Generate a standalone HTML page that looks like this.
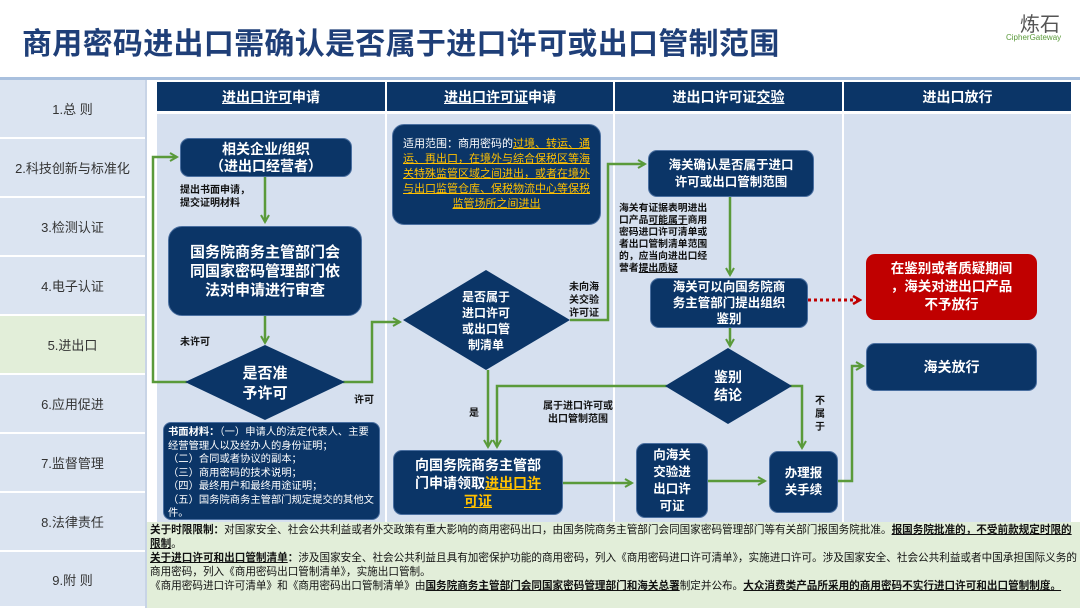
<!DOCTYPE html>
<html><head><meta charset="utf-8"><style>
*{margin:0;padding:0;box-sizing:border-box}
body{width:1080px;height:608px;overflow:hidden;background:#fff;position:relative;font-family:"Liberation Sans","Noto Sans CJK SC",sans-serif}
.a{position:absolute}
.t{left:22px;top:19px;font-size:30px;font-weight:bold;color:#1f3f78;letter-spacing:0.3px;white-space:nowrap}
.side{left:0;width:145px;background:#dbe4f1;color:#333;font-size:13px;display:flex;align-items:center;justify-content:center;border-bottom:2px solid #fff}
.hd{top:82px;height:29px;background:#0b3567;color:#fff;font-weight:bold;font-size:14px;display:flex;align-items:center;justify-content:center}
.box{background:#0b3567;color:#fff;font-weight:bold;border-radius:9px;display:flex;align-items:center;justify-content:center;text-align:center;border:1px solid #4a6fa0}
.lbl{font-size:10px;font-weight:bold;color:#111;line-height:13px}
.y{color:#ffc000;text-decoration:underline}
u{text-decoration:underline}
</style></head><body>
<div class="a t">商用密码进出口需确认是否属于进口许可或出口管制范围</div>
<div class="a" style="left:1020px;top:8px;font-size:20px;color:#555">炼石</div>
<div class="a" style="left:1006px;top:33px;font-size:8px;color:#5a9a3a">CipherGateway</div>
<div class="a" style="left:0;top:77px;width:1080px;height:3px;background:#a9c0de"></div>
<div class="a side" style="top:80px;height:59px">1.总 则</div>
<div class="a side" style="top:139px;height:59px">2.科技创新与标准化</div>
<div class="a side" style="top:198px;height:59px">3.检测认证</div>
<div class="a side" style="top:257px;height:59px">4.电子认证</div>
<div class="a side" style="top:316px;height:59px;background:#e2eed9">5.进出口</div>
<div class="a side" style="top:375px;height:59px">6.应用促进</div>
<div class="a side" style="top:434px;height:59px">7.监督管理</div>
<div class="a side" style="top:493px;height:59px">8.法律责任</div>
<div class="a side" style="top:552px;height:56px">9.附 则</div>
<div class="a" style="left:145px;top:80px;width:2px;height:528px;background:#c8d4e6"></div>
<div class="a" style="left:150px;top:80px;width:925px;height:442px;background:#fff"></div>
<div class="a" style="left:157px;top:114px;width:228px;height:408px;background:#d6e0ef"></div>
<div class="a" style="left:387px;top:114px;width:226px;height:408px;background:#d6e0ef"></div>
<div class="a" style="left:615px;top:114px;width:227px;height:408px;background:#d6e0ef"></div>
<div class="a" style="left:844px;top:114px;width:227px;height:408px;background:#d6e0ef"></div>
<div class="a hd" style="left:157px;width:228px"><div><u>进出口许可</u>申请</div></div>
<div class="a hd" style="left:387px;width:226px"><div><u>进出口许可证</u>申请</div></div>
<div class="a hd" style="left:615px;width:227px"><div>进出口许可证<u>交验</u></div></div>
<div class="a hd" style="left:844px;width:227px">进出口放行</div>

<svg class="a" style="left:0;top:0" width="1080" height="608">
<defs><marker id="g" markerWidth="10" markerHeight="10" refX="8" refY="5" orient="auto" markerUnits="userSpaceOnUse"><path d="M1,1 L8,5 L1,9" fill="none" stroke="#5a9a3a" stroke-width="2"/></marker>
<marker id="r" markerWidth="10" markerHeight="10" refX="8" refY="5" orient="auto" markerUnits="userSpaceOnUse"><path d="M1,1 L8,5 L1,9" fill="none" stroke="#c00000" stroke-width="2.5"/></marker></defs>
<g fill="none" stroke="#5a9a3a" stroke-width="2.5">
<path d="M265,177 V222" marker-end="url(#g)"/>
<path d="M265,316 V343" marker-end="url(#g)"/>
<path d="M187,382 H153 V157 H177" marker-end="url(#g)"/>
<path d="M343,382 H372 V322 H400" marker-end="url(#g)"/>
<path d="M570,320 H608 V164 H645" marker-end="url(#g)"/>
<path d="M730,197 V275" marker-end="url(#g)"/>
<path d="M730,328 V346" marker-end="url(#g)"/>
<path d="M488,370 V447" marker-end="url(#g)"/>
<path d="M667,386 H497 V447" marker-end="url(#g)"/>
<path d="M790,386 H802 V448" marker-end="url(#g)"/>
<path d="M563,483 H632" marker-end="url(#g)"/>
<path d="M708,481 H765" marker-end="url(#g)"/>
<path d="M838,481 H852 V366 H863" marker-end="url(#g)"/>
</g>
<path d="M808,300 H860" stroke="#c00000" stroke-width="3" stroke-dasharray="3,3" fill="none" marker-end="url(#r)"/>
<polygon points="185,382 265,345 345,382 265,420" fill="#0b3567"/>
<polygon points="403,320 486,270 570,320 486,370" fill="#0b3567"/>
<polygon points="665,386 728,348 792,386 728,424" fill="#0b3567"/>
<text x="265" y="378" fill="#fff" font-size="15" font-weight="bold" text-anchor="middle">是否准</text>
<text x="265" y="398" fill="#fff" font-size="15" font-weight="bold" text-anchor="middle">予许可</text>
<text x="486" y="301" fill="#fff" font-size="12" font-weight="bold" text-anchor="middle">是否属于</text>
<text x="486" y="317" fill="#fff" font-size="12" font-weight="bold" text-anchor="middle">进口许可</text>
<text x="486" y="333" fill="#fff" font-size="12" font-weight="bold" text-anchor="middle">或出口管</text>
<text x="486" y="349" fill="#fff" font-size="12" font-weight="bold" text-anchor="middle">制清单</text>
<text x="728" y="382" fill="#fff" font-size="14" font-weight="bold" text-anchor="middle">鉴别</text>
<text x="728" y="400" fill="#fff" font-size="14" font-weight="bold" text-anchor="middle">结论</text>
</svg>

<div class="a box" style="left:180px;top:138px;width:172px;height:39px;font-size:14px;line-height:17px"><div>相关企业/组织<br>（进出口经营者）</div></div>
<div class="a lbl" style="left:180px;top:184px">提出书面申请，<br>提交证明材料</div>
<div class="a box" style="left:168px;top:226px;width:194px;height:90px;font-size:15px;line-height:19px;border-radius:14px"><div>国务院商务主管部门会<br>同国家密码管理部门依<br>法对申请进行审查</div></div>
<div class="a lbl" style="left:180px;top:336px">未许可</div>
<div class="a lbl" style="left:354px;top:394px">许可</div>
<div class="a box" style="left:163px;top:422px;width:217px;height:98px;font-size:10.3px;line-height:13.5px;font-weight:normal;justify-content:flex-start;align-items:flex-start;text-align:left;padding:3px 4px;border-radius:8px"><div><b>书面材料：</b>（一）申请人的法定代表人、主要经营管理人以及经办人的身份证明；<br>（二）合同或者协议的副本；<br>（三）商用密码的技术说明；<br>（四）最终用户和最终用途证明；<br>（五）国务院商务主管部门规定提交的其他文件。</div></div>

<div class="a box" style="left:392px;top:124px;width:209px;height:101px;font-size:11px;line-height:15px;font-weight:normal;padding:4px 9px;border-radius:12px"><div>适用范围：商用密码的<span class="y">过境、转运、通运、再出口，在境外与综合保税区等海关特殊监管区域之间进出，或者在境外与出口监管仓库、保税物流中心等保税监管场所之间进出</span></div></div>
<div class="a lbl" style="left:569px;top:281px">未向海<br>关交验<br>许可证</div>
<div class="a lbl" style="left:469px;top:407px">是</div>
<div class="a lbl" style="left:543px;top:400px;text-align:center">属于进口许可或<br>出口管制范围</div>
<div class="a box" style="left:393px;top:450px;width:170px;height:65px;font-size:14px;line-height:18px"><div>向国务院商务主管部<br>门申请领取<span class="y">进出口许</span><br><span class="y">可证</span></div></div>

<div class="a box" style="left:648px;top:150px;width:166px;height:47px;font-size:12.5px;line-height:17px"><div>海关确认是否属于进口<br>许可或出口管制范围</div></div>
<div class="a" style="left:619px;top:203px;font-size:9.8px;font-weight:bold;line-height:12px;color:#111;white-space:nowrap">海关有证据表明进出<br>口产品<u>可能属于</u>商用<br>密码进口许可清单或<br>者出口管制清单范围<br>的，应当向进出口经<br>营者<u>提出质疑</u></div>
<div class="a box" style="left:650px;top:278px;width:158px;height:50px;font-size:12.5px;line-height:16px"><div>海关可以向国务院商<br>务主管部门提出组织<br>鉴别</div></div>
<div class="a lbl" style="left:815px;top:395px;width:12px">不属于</div>
<div class="a box" style="left:636px;top:443px;width:72px;height:75px;font-size:12.5px;line-height:17px"><div>向海关<br>交验进<br>出口许<br>可证</div></div>
<div class="a box" style="left:769px;top:451px;width:69px;height:62px;font-size:12.5px;line-height:17px"><div>办理报<br>关手续</div></div>

<div class="a box" style="left:866px;top:254px;width:171px;height:66px;font-size:13.5px;line-height:18px;background:#c00000;border-color:#c00000"><div>在鉴别或者质疑期间<br>，海关对进出口产品<br>不予放行</div></div>
<div class="a box" style="left:866px;top:343px;width:171px;height:48px;font-size:14px">海关放行</div>

<div class="a" style="left:147px;top:522px;width:933px;height:86px;background:#e2eed9;font-size:10.6px;line-height:14px;color:#111;padding:1px 3px;overflow:hidden">
<b>关于时限限制：</b>对国家安全、社会公共利益或者外交政策有重大影响的商用密码出口，由国务院商务主管部门会同国家密码管理部门等有关部门报国务院批准。<b><u>报国务院批准的，不受前款规定时限的限制</u></b>。<br>
<b><u>关于进口许可和出口管制清单</u>：</b>涉及国家安全、社会公共利益且具有加密保护功能的商用密码，列入《商用密码进口许可清单》，实施进口许可。涉及国家安全、社会公共利益或者中国承担国际义务的商用密码，列入《商用密码出口管制清单》，实施出口管制。<br>
《商用密码进口许可清单》和《商用密码出口管制清单》由<b><u>国务院商务主管部门会同国家密码管理部门和海关总署</u></b>制定并公布。<b><u>大众消费类产品所采用的商用密码不实行进口许可和出口管制制度。</u></b>
</div>
</body></html>
